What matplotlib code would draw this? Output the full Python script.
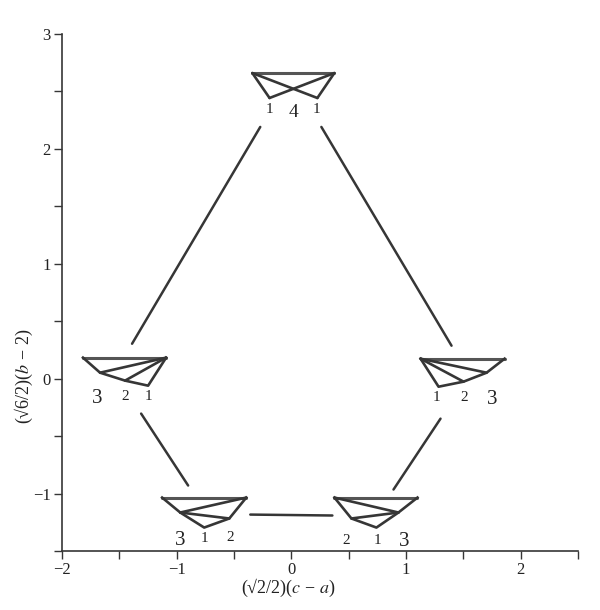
import matplotlib
matplotlib.use('Agg')
import matplotlib.pyplot as plt

plt.rcParams['font.family'] = ['Liberation Serif', 'DejaVu Serif']
plt.rcParams['mathtext.fontset'] = 'stix'

INK = '#363636'

# each shape: top edge corners, then lower vertices left to right
top_left_x = [-0.34, -1.817, 1.127, -1.127, 0.376]
top_right_x = [0.375, -1.092, 1.86, -0.393, 1.10]
top_y = [2.66, 0.183, 0.174, -1.035, -1.035]

# top shape (crossing triangles)
top_low_x = [-0.19, 0.227]
top_low_y = [2.443, 2.443]

# left shape, sites 3 2 1
left_low_x = [-1.668, -1.45, -1.249]
left_low_y = [0.052, -0.017, -0.061]

# right shape, sites 1 2 3
right_low_x = [1.284, 1.502, 1.703]
right_low_y = [-0.07, -0.026, 0.052]

# bottom left, sites 3 1 2
bl_low_x = [-0.969, -0.76, -0.541]
bl_low_y = [-1.165, -1.296, -1.217]

# bottom right, sites 2 1 3
br_low_x = [0.524, 0.742, 0.934]
br_low_y = [-1.217, -1.296, -1.165]

# connecting lines
conn_x0 = [-1.389, 0.262, -1.31, 1.301, -0.358]
conn_y0 = [0.304, 2.191, -0.304, -0.348, -1.183]
conn_x1 = [-0.271, 1.397, -0.90, 0.891, 0.358]
conn_y1 = [2.191, 0.287, -0.93, -0.965, -1.191]

# site labels
label_text = ['1', '4', '1', '3', '2', '1', '1', '2', '3', '3', '1', '2', '2', '1', '3']
label_x = [-0.19, 0.02, 0.22, -1.69, -1.45, -1.25, 1.27, 1.51, 1.75, -0.97, -0.76, -0.53, 0.48, 0.75, 0.98]
label_y = [2.34, 2.32, 2.34, -0.175, -0.155, -0.155, -0.165, -0.165, -0.185, -1.405, -1.395, -1.385, -1.405, -1.405, -1.415]
label_size = [11, 14, 11, 15, 11, 11, 11, 11, 15, 15, 11, 11, 11, 11, 15]

x_ticks = [-2, -1.5, -1, -0.5, 0, 0.5, 1, 1.5, 2, 2.5]
y_ticks = [-1.5, -1, -0.5, 0, 0.5, 1, 1.5, 2, 2.5, 3]
x_labels = ['\u22122', '', '\u22121', '', '0', '', '1', '', '2', '']
y_labels = ['', '\u22121', '', '0', '', '1', '', '2', '', '3']

fig = plt.figure(figsize=(6, 6.1), dpi=100)
ax = fig.add_axes([62 / 600, 1 - 551 / 610, 516 / 600, 517 / 610])


def seg(x0, y0, x1, y1, lw=1.9, color=INK):
    ax.plot([x0, x1], [y0, y1], color=color, lw=lw, solid_capstyle='round')


# top edges, drawn a bit heavier like the scan
for i in range(5):
    seg(top_left_x[i], top_y[i], top_right_x[i], top_y[i], lw=2.2, color='#555555')

# top shape
seg(top_left_x[0], top_y[0], top_low_x[0], top_low_y[0])
seg(top_low_x[0], top_low_y[0], top_right_x[0], top_y[0])
seg(top_left_x[0], top_y[0], top_low_x[1], top_low_y[1])
seg(top_low_x[1], top_low_y[1], top_right_x[0], top_y[0])

# left shape
ax.plot([top_left_x[1]] + left_low_x + [top_right_x[1]],
        [top_y[1]] + left_low_y + [top_y[1]], color=INK, lw=1.9)
seg(left_low_x[0], left_low_y[0], top_right_x[1], top_y[1])
seg(left_low_x[1], left_low_y[1], top_right_x[1], top_y[1])

# right shape
ax.plot([top_left_x[2]] + right_low_x + [top_right_x[2]],
        [top_y[2]] + right_low_y + [top_y[2]], color=INK, lw=1.9)
seg(top_left_x[2], top_y[2], right_low_x[1], right_low_y[1])
seg(top_left_x[2], top_y[2], right_low_x[2], right_low_y[2])

# bottom left shape
ax.plot([top_left_x[3]] + bl_low_x + [top_right_x[3]],
        [top_y[3]] + bl_low_y + [top_y[3]], color=INK, lw=1.9)
seg(bl_low_x[0], bl_low_y[0], top_right_x[3], top_y[3])
seg(bl_low_x[0], bl_low_y[0], bl_low_x[2], bl_low_y[2])

# bottom right shape
ax.plot([top_left_x[4]] + br_low_x + [top_right_x[4]],
        [top_y[4]] + br_low_y + [top_y[4]], color=INK, lw=1.9)
seg(top_left_x[4], top_y[4], br_low_x[2], br_low_y[2])
seg(br_low_x[0], br_low_y[0], br_low_x[2], br_low_y[2])

for i in range(len(conn_x0)):
    seg(conn_x0[i], conn_y0[i], conn_x1[i], conn_y1[i], lw=1.8)

for t, x, y, s in zip(label_text, label_x, label_y, label_size):
    ax.text(x, y, t, fontsize=s, ha='center', va='center', color='#222222')

ax.set_xlim(-2, 2.5)
ax.set_ylim(-1.5, 3)
ax.set_xticks(x_ticks)
ax.set_xticklabels(x_labels)
ax.set_yticks(y_ticks)
ax.set_yticklabels(y_labels)
ax.tick_params(length=6, width=1, color=INK, labelsize=12, labelcolor='#222222', pad=2)
ax.spines['top'].set_visible(False)
ax.spines['right'].set_visible(False)
ax.spines['left'].set_color(INK)
ax.spines['bottom'].set_color(INK)
ax.spines['left'].set_linewidth(1.2)
ax.spines['bottom'].set_linewidth(1.2)

ax.set_xlabel('(\u221a2/2)($c$ \u2212 $a$)', fontsize=13, color='#222222')
ax.set_ylabel('(\u221a6/2)($b$ \u2212 2)', fontsize=13, color='#222222')
ax.xaxis.set_label_coords(0.438, -0.05)
ax.yaxis.set_label_coords(-0.052, 0.337)

fig.savefig('out.png', dpi=100)
